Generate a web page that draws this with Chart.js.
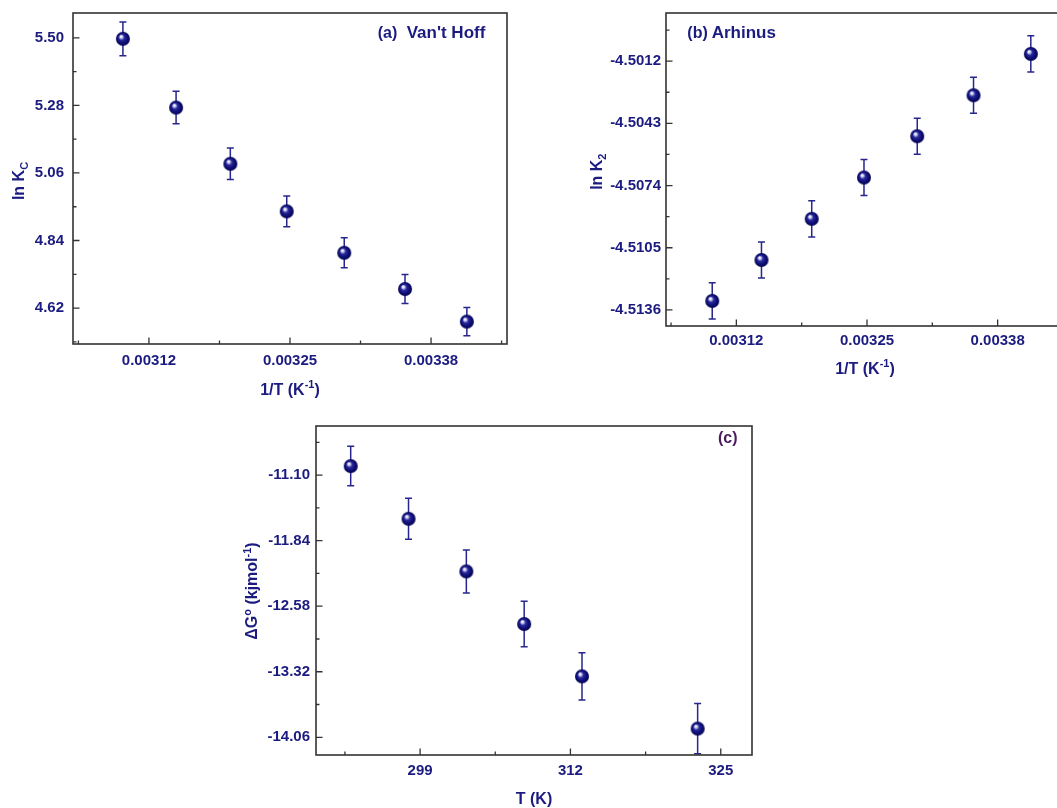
<!DOCTYPE html>
<html><head><meta charset="utf-8">
<script src="https://cdn.jsdelivr.net/npm/chart.js@4.4.0/dist/chart.umd.min.js"></script>
<style>
html,body{margin:0;padding:0;background:#fff;overflow:hidden;width:1057px;height:808px;position:relative;}
canvas{position:absolute;}
#ca{left:0;top:0;}
#cb{left:530px;top:0;}
#cc{left:240px;top:410px;}
</style></head><body>
<canvas id="ca" width="530" height="400"></canvas>
<canvas id="cb" width="560" height="400"></canvas>
<canvas id="cc" width="540" height="398"></canvas>
<script>
// ---------- data ----------
const invT      = [0.003096, 0.003145, 0.003195, 0.003247, 0.003300, 0.003356, 0.003413];
const lnKc      = [5.497, 5.273, 5.090, 4.935, 4.800, 4.682, 4.576];
const lnKcErr   = [0.055, 0.053, 0.051, 0.050, 0.049, 0.047, 0.046];
const lnK2      = [-4.51315, -4.51111, -4.50906, -4.50700, -4.50494, -4.50290, -4.50084];
const lnK2Err   = [0.0009, 0.0009, 0.0009, 0.0009, 0.0009, 0.0009, 0.0009];
const tempK     = [293, 298, 303, 308, 313, 323];
const dG        = [-10.998, -11.593, -12.187, -12.781, -13.372, -13.962];
const dGErr     = [0.223, 0.231, 0.243, 0.258, 0.267, 0.284];
const xTicksInvT = [0.00312, 0.00325, 0.00338];
const yTicksA    = [4.62, 4.84, 5.06, 5.28, 5.50];
const yTicksB    = [-4.5136, -4.5105, -4.5074, -4.5043, -4.5012];
const xTicksT    = [299, 312, 325];
const yTicksC    = [-14.06, -13.32, -12.58, -11.84, -11.10];

// ---------- styles ----------
const FONT = '"Liberation Sans", Arial, sans-serif';
const NAVY = '#1b1b80';
const FRAME = '#333333';

function sphere(r){
  const s = r*2+2, c = document.createElement('canvas');
  c.width = s; c.height = s;
  const g = c.getContext('2d'), cx = s/2, cy = s/2;
  const grd = g.createRadialGradient(cx-r*0.3, cy-r*0.35, r*0.05, cx, cy, r);
  grd.addColorStop(0, '#ffffff');
  grd.addColorStop(0.16, '#c9c9f0');
  grd.addColorStop(0.38, '#2a2a9c');
  grd.addColorStop(0.75, '#0b0b72');
  grd.addColorStop(1, '#06064d');
  g.fillStyle = grd; g.beginPath(); g.arc(cx, cy, r, 0, Math.PI*2); g.fill();
  return c;
}
const ball = sphere(7);

function drawRich(ctx, segs, cx, cy, size, rot, color){
  ctx.save(); ctx.translate(cx, cy); if (rot) ctx.rotate(-Math.PI/2);
  ctx.fillStyle = color; ctx.textBaseline = 'alphabetic'; ctx.textAlign = 'left';
  const f = k => 'bold ' + (k === 'n' ? size : Math.round(size*0.68)) + 'px ' + FONT;
  let w = 0;
  segs.forEach(s => { ctx.font = f(s.k); s.w = ctx.measureText(s.t).width; w += s.w; });
  let x = -w/2; const base = size*0.358;
  segs.forEach(s => {
    ctx.font = f(s.k);
    const dy = s.k === 'sup' ? -size*0.4 : s.k === 'sub' ? size*0.25 : 0;
    ctx.fillText(s.t, x, base + dy); x += s.w;
  });
  ctx.restore();
}

const errorBars = {
  id: 'errorBars',
  beforeDatasetsDraw(chart){
    const ctx = chart.ctx, xs = chart.scales.x, ys = chart.scales.y;
    chart.data.datasets.forEach(ds => {
      ctx.save(); ctx.strokeStyle = '#26268c'; ctx.lineWidth = 1.5;
      ds.data.forEach((p, i) => {
        const e = ds.errors[i], x = xs.getPixelForValue(p.x);
        const y1 = ys.getPixelForValue(p.y + e), y2 = ys.getPixelForValue(p.y - e);
        ctx.beginPath();
        ctx.moveTo(x, y1); ctx.lineTo(x, y2);
        ctx.moveTo(x-3.5, y1); ctx.lineTo(x+3.5, y1);
        ctx.moveTo(x-3.5, y2); ctx.lineTo(x+3.5, y2);
        ctx.stroke();
      });
      ctx.restore();
    });
  }
};

const frame = {
  id: 'frame',
  afterDraw(chart, args, o){
    const ctx = chart.ctx, a = chart.chartArea, xs = chart.scales.x, ys = chart.scales.y;
    ctx.save();
    ctx.strokeStyle = FRAME; ctx.lineWidth = 1.6;
    ctx.strokeRect(a.left, a.top, a.right - a.left, a.bottom - a.top);
    ctx.lineWidth = 1.3;
    function ticksFor(scale){
      const vals = scale.ticks.map(t => t.value), out = [];
      vals.forEach(v => out.push({v, major: true}));
      const step = vals[1] - vals[0];
      for (let k = -1; k < vals.length; k++){
        const m = vals[0] + (k + 0.5)*step;
        if (m >= scale.min && m <= scale.max) out.push({v: m, major: false});
      }
      return out;
    }
    ctx.beginPath();
    ticksFor(xs).forEach(t => {
      const x = xs.getPixelForValue(t.v), L = t.major ? 6.5 : 3.5;
      ctx.moveTo(x, a.bottom); ctx.lineTo(x, a.bottom - L);
    });
    ticksFor(ys).forEach(t => {
      const y = ys.getPixelForValue(t.v), L = t.major ? 6.5 : 3.5;
      ctx.moveTo(a.left, y); ctx.lineTo(a.left + L, y);
    });
    ctx.stroke();
    ctx.restore();
    const c = chart.ctx;
    o.xTitle && drawRich(c, o.xTitle.segs, o.xTitle.x, o.xTitle.y, 16, false, NAVY);
    o.yTitle && drawRich(c, o.yTitle.segs, o.yTitle.x, o.yTitle.y, 16, true, NAVY);
    (o.notes || []).forEach(n => {
      c.save(); c.font = 'bold ' + n.size + 'px ' + FONT; c.fillStyle = n.color;
      c.textAlign = 'left'; c.textBaseline = 'middle'; c.fillText(n.t, n.x, n.y); c.restore();
    });
  }
};

function makeChart(id, cfg){
  const tickFont = {family: FONT, size: 15, weight: 'bold'};
  return new Chart(document.getElementById(id), {
    type: 'scatter',
    data: {datasets: [{
      data: cfg.xs.map((x, i) => ({x: x, y: cfg.ys[i]})),
      errors: cfg.err,
      pointStyle: ball, pointRadius: 7, pointHoverRadius: 7,
      showLine: false
    }]},
    options: {
      responsive: false, animation: false, events: [],
      devicePixelRatio: 1,
      layout: {padding: cfg.pad},
      plugins: {legend: {display: false}, tooltip: {enabled: false}, frame: cfg.frame},
      scales: {
        x: {
          type: 'linear', min: cfg.xmin, max: cfg.xmax,
          afterBuildTicks: s => { s.ticks = cfg.xTicks.map(v => ({value: v})); },
          afterFit: s => { s.height = cfg.xh; s.paddingLeft = 0; s.paddingRight = 0; s.paddingTop = 0; s.paddingBottom = 0; },
          grid: {display: false, drawTicks: false}, border: {display: false},
          ticks: {font: tickFont, color: NAVY, padding: cfg.xpad, maxRotation: 0, autoSkip: false,
                  callback: v => Number(v).toFixed(cfg.xdec)}
        },
        y: {
          type: 'linear', min: cfg.ymin, max: cfg.ymax,
          afterBuildTicks: s => { s.ticks = cfg.yTicks.map(v => ({value: v})); },
          afterFit: s => { s.width = cfg.yw; s.paddingLeft = 0; s.paddingRight = 0; s.paddingTop = 0; s.paddingBottom = 0; },
          grid: {display: false, drawTicks: false}, border: {display: false},
          ticks: {font: tickFont, color: NAVY, padding: cfg.ypad, autoSkip: false,
                  callback: v => Number(v).toFixed(cfg.ydec)}
        }
      }
    },
    plugins: [errorBars, frame]
  });
}

const invTTitle = [{t: '1/T (K', k: 'n'}, {t: '-1', k: 'sup'}, {t: ')', k: 'n'}];

makeChart('ca', {
  xs: invT, ys: lnKc, err: lnKcErr,
  xmin: 0.00305, xmax: 0.00345, ymin: 4.503, ymax: 5.581,
  xTicks: xTicksInvT, yTicks: yTicksA, xdec: 5, ydec: 2,
  pad: {left: 0, right: 23, top: 13, bottom: 0}, xh: 56, yw: 73, xpad: 8, ypad: 9,
  frame: {
    xTitle: {segs: invTTitle, x: 290, y: 389},
    yTitle: {segs: [{t: 'ln K', k: 'n'}, {t: 'C', k: 'sub'}], x: 18.5, y: 181},
    notes: [{t: '(a)', x: 377.7, y: 33.5, size: 16, color: NAVY},
            {t: "Van't Hoff", x: 406.7, y: 33.5, size: 17, color: NAVY}]
  }
});

makeChart('cb', {
  xs: invT, ys: lnK2, err: lnK2Err,
  xmin: 0.00305, xmax: 0.00345, ymin: -4.5144, ymax: -4.4988,
  xTicks: xTicksInvT, yTicks: yTicksB, xdec: 5, ydec: 4,
  pad: {left: 0, right: 22, top: 13, bottom: 0}, xh: 74, yw: 136, xpad: 6, ypad: 5,
  frame: {
    xTitle: {segs: invTTitle, x: 335, y: 368},
    yTitle: {segs: [{t: 'ln K', k: 'n'}, {t: '2', k: 'sub'}], x: 66.7, y: 171.7},
    notes: [{t: '(b)', x: 157.3, y: 33.5, size: 16, color: NAVY},
            {t: 'Arhinus', x: 181.7, y: 33.5, size: 17, color: NAVY}]
  }
});

makeChart('cc', {
  xs: tempK, ys: dG, err: dGErr,
  xmin: 290, xmax: 327.7, ymin: -14.26, ymax: -10.545,
  xTicks: xTicksT, yTicks: yTicksC, xdec: 0, ydec: 2,
  pad: {left: 0, right: 28, top: 16, bottom: 0}, xh: 53, yw: 76, xpad: 7, ypad: 6,
  frame: {
    xTitle: {segs: [{t: 'T (K)', k: 'n'}], x: 294, y: 388.3},
    yTitle: {segs: [{t: '\u0394G', k: 'n'}, {t: 'o', k: 'sup'}, {t: ' (kjmol', k: 'n'}, {t: '-1', k: 'sup'}, {t: ')', k: 'n'}], x: 11.7, y: 181},
    notes: [{t: '(c)', x: 478, y: 28.3, size: 16, color: '#4b1a5e'}]
  }
});
</script>
</body></html>
